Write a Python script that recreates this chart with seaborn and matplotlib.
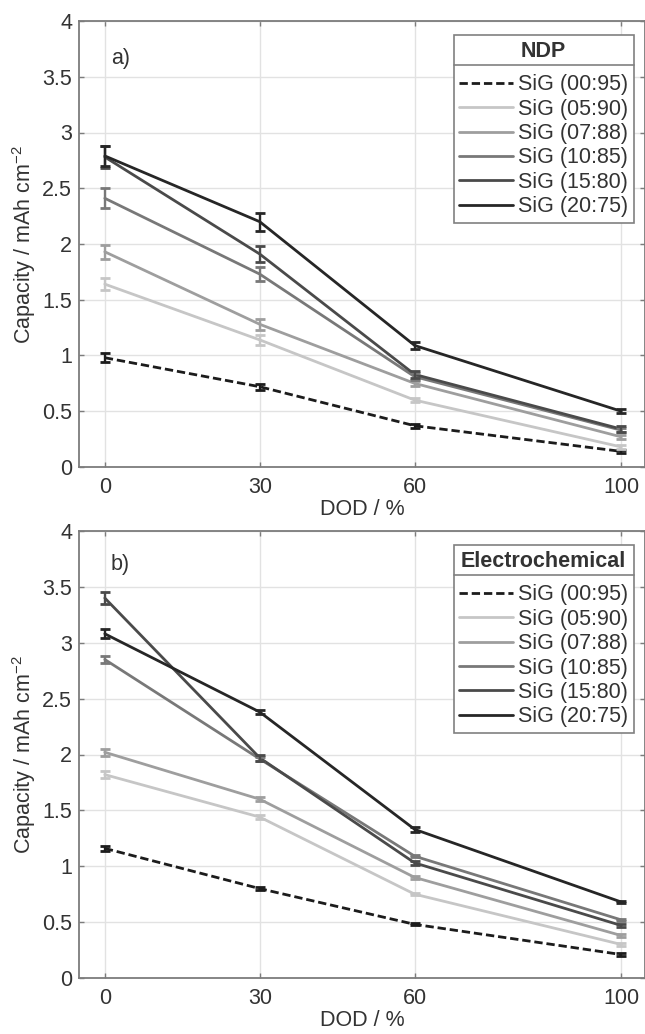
import numpy as np
import pandas as pd
import matplotlib
matplotlib.use("Agg")
import matplotlib.pyplot as plt
import seaborn as sns
from matplotlib.lines import Line2D

# ---------------- data ----------------
dod = [0, 30, 60, 100]
series_names = ["SiG (00:95)", "SiG (05:90)", "SiG (07:88)",
                "SiG (10:85)", "SiG (15:80)", "SiG (20:75)"]

# panel a) NDP
ndp_0095 = [0.98, 0.72, 0.37, 0.14]
ndp_0590 = [1.64, 1.14, 0.60, 0.18]
ndp_0788 = [1.93, 1.28, 0.75, 0.27]
ndp_1085 = [2.41, 1.73, 0.81, 0.33]
ndp_1580 = [2.78, 1.91, 0.83, 0.34]
ndp_2075 = [2.79, 2.20, 1.09, 0.50]
ndp_err_0095 = [0.04, 0.025, 0.02, 0.015]
ndp_err_0590 = [0.055, 0.045, 0.02, 0.02]
ndp_err_0788 = [0.065, 0.05, 0.02, 0.02]
ndp_err_1085 = [0.09, 0.06, 0.03, 0.02]
ndp_err_1580 = [0.10, 0.075, 0.03, 0.03]
ndp_err_2075 = [0.09, 0.08, 0.03, 0.02]

# panel b) Electrochemical
ec_0095 = [1.16, 0.80, 0.48, 0.21]
ec_0590 = [1.82, 1.44, 0.75, 0.30]
ec_0788 = [2.02, 1.60, 0.90, 0.38]
ec_1085 = [2.85, 1.96, 1.09, 0.52]
ec_1580 = [3.40, 1.97, 1.03, 0.47]
ec_2075 = [3.08, 2.38, 1.33, 0.68]
ec_err_0095 = [0.02, 0.01, 0.01, 0.01]
ec_err_0590 = [0.03, 0.02, 0.01, 0.01]
ec_err_0788 = [0.03, 0.02, 0.01, 0.01]
ec_err_1085 = [0.03, 0.02, 0.01, 0.01]
ec_err_1580 = [0.05, 0.03, 0.02, 0.01]
ec_err_2075 = [0.04, 0.02, 0.02, 0.01]

y_ticks = [0, 0.5, 1, 1.5, 2, 2.5, 3, 3.5, 4]
y_tick_labels = ["0", "0.5", "1", "1.5", "2", "2.5", "3", "3.5", "4"]
x_ticks = [0, 30, 60, 100]

colors = ["#1c1c1c", "#c6c6c6", "#9e9e9e", "#787878", "#4a4a4a", "#262626"]
styles = [(0, (3, 1.4)), "-", "-", "-", "-", "-"]

# ---------------- style ----------------
sns.set_theme(style="white")
plt.rcParams["font.family"] = ["Liberation Sans", "DejaVu Sans"]
plt.rcParams["text.color"] = "#333333"
plt.rcParams["axes.labelcolor"] = "#333333"
plt.rcParams["xtick.color"] = "#333333"
plt.rcParams["ytick.color"] = "#333333"

FS = 15.5

W, H = 645, 1034
fig = plt.figure(figsize=(W / 100, H / 100), dpi=100)
fig.patch.set_facecolor("white")

def ax_rect(left, right, top, bottom):
    return [left / W, 1 - bottom / H, (right - left) / W, (bottom - top) / H]

ax_a = fig.add_axes(ax_rect(79, 645, 21, 467))
ax_b = fig.add_axes(ax_rect(79, 645, 531, 978))

panels = [
    (ax_a, "a)", "NDP",
     [ndp_0095, ndp_0590, ndp_0788, ndp_1085, ndp_1580, ndp_2075],
     [ndp_err_0095, ndp_err_0590, ndp_err_0788, ndp_err_1085, ndp_err_1580, ndp_err_2075],
     3.66),
    (ax_b, "b)", "Electrochemical",
     [ec_0095, ec_0590, ec_0788, ec_1085, ec_1580, ec_2075],
     [ec_err_0095, ec_err_0590, ec_err_0788, ec_err_1085, ec_err_1580, ec_err_2075],
     3.70),
]

legends = []
for ax, tag, title, vals, errs, tag_y in panels:
    ax.set_facecolor("white")
    handles = []
    for name, v, e, c, ls in zip(series_names, vals, errs, colors, styles):
        df = pd.DataFrame({"DOD": dod, "cap": v})
        sns.lineplot(data=df, x="DOD", y="cap", ax=ax, color=c,
                     linestyle=ls, linewidth=2.0, label=name, legend=False)
        ax.errorbar(dod, v, yerr=e, fmt="none", ecolor=c, elinewidth=1.7,
                    capsize=3.8, capthick=2.0, zorder=3)
        handles.append(Line2D([0], [0], color=c, linestyle=ls, linewidth=2.0))
    ax.set_xlim(-5, 104.6)
    ax.set_ylim(0, 4)
    ax.set_xticks(x_ticks)
    ax.set_yticks(y_ticks)
    ax.set_yticklabels(y_tick_labels)
    ax.grid(True, color="#e2e2e2", linewidth=1.0)
    ax.set_axisbelow(True)
    for sp in ax.spines.values():
        sp.set_visible(True)
        sp.set_color("#7c7c7c")
        sp.set_linewidth(1.3)
    ax.tick_params(axis="both", which="both", direction="in", length=3.5,
                   width=1.0, color="#7c7c7c", labelsize=FS,
                   top=True, right=True, bottom=True, left=True)
    ax.tick_params(axis="x", pad=7)
    ax.tick_params(axis="y", pad=5)
    ax.set_xlabel("DOD / %", fontsize=FS, labelpad=1)
    ax.set_ylabel("Capacity / mAh cm$^{\\mathregular{-2}}$", fontsize=FS, labelpad=3)
    ax.text(1.2, tag_y, tag, fontsize=FS, ha="left", va="center", color="#333333")
    leg = ax.legend(handles, series_names, title=title, loc="upper right",
                    bbox_to_anchor=(0.98, 0.968), fontsize=FS,
                    title_fontproperties={"weight": "bold", "size": FS},
                    frameon=True, fancybox=False, framealpha=1,
                    edgecolor="#808080", handlelength=2.5, handletextpad=0.25,
                    labelspacing=0.16, borderpad=0.25, borderaxespad=0)
    leg.get_frame().set_linewidth(1.2)
    leg._legend_box.sep = 9
    legends.append(leg)

# draw separators under legend titles
fig.canvas.draw()
renderer = fig.canvas.get_renderer()
inv = fig.transFigure.inverted()
for leg in legends:
    fb = leg.get_frame().get_window_extent(renderer)
    tb = leg.get_title().get_window_extent(renderer)
    y = tb.y0 - 3
    (x0, yy), (x1, _) = inv.transform([(fb.x0, y), (fb.x1, y)])
    fig.add_artist(Line2D([x0, x1], [yy, yy], transform=fig.transFigure,
                          color="#808080", linewidth=1.2, zorder=10))

fig.savefig("out.png", dpi=100, facecolor="white")
